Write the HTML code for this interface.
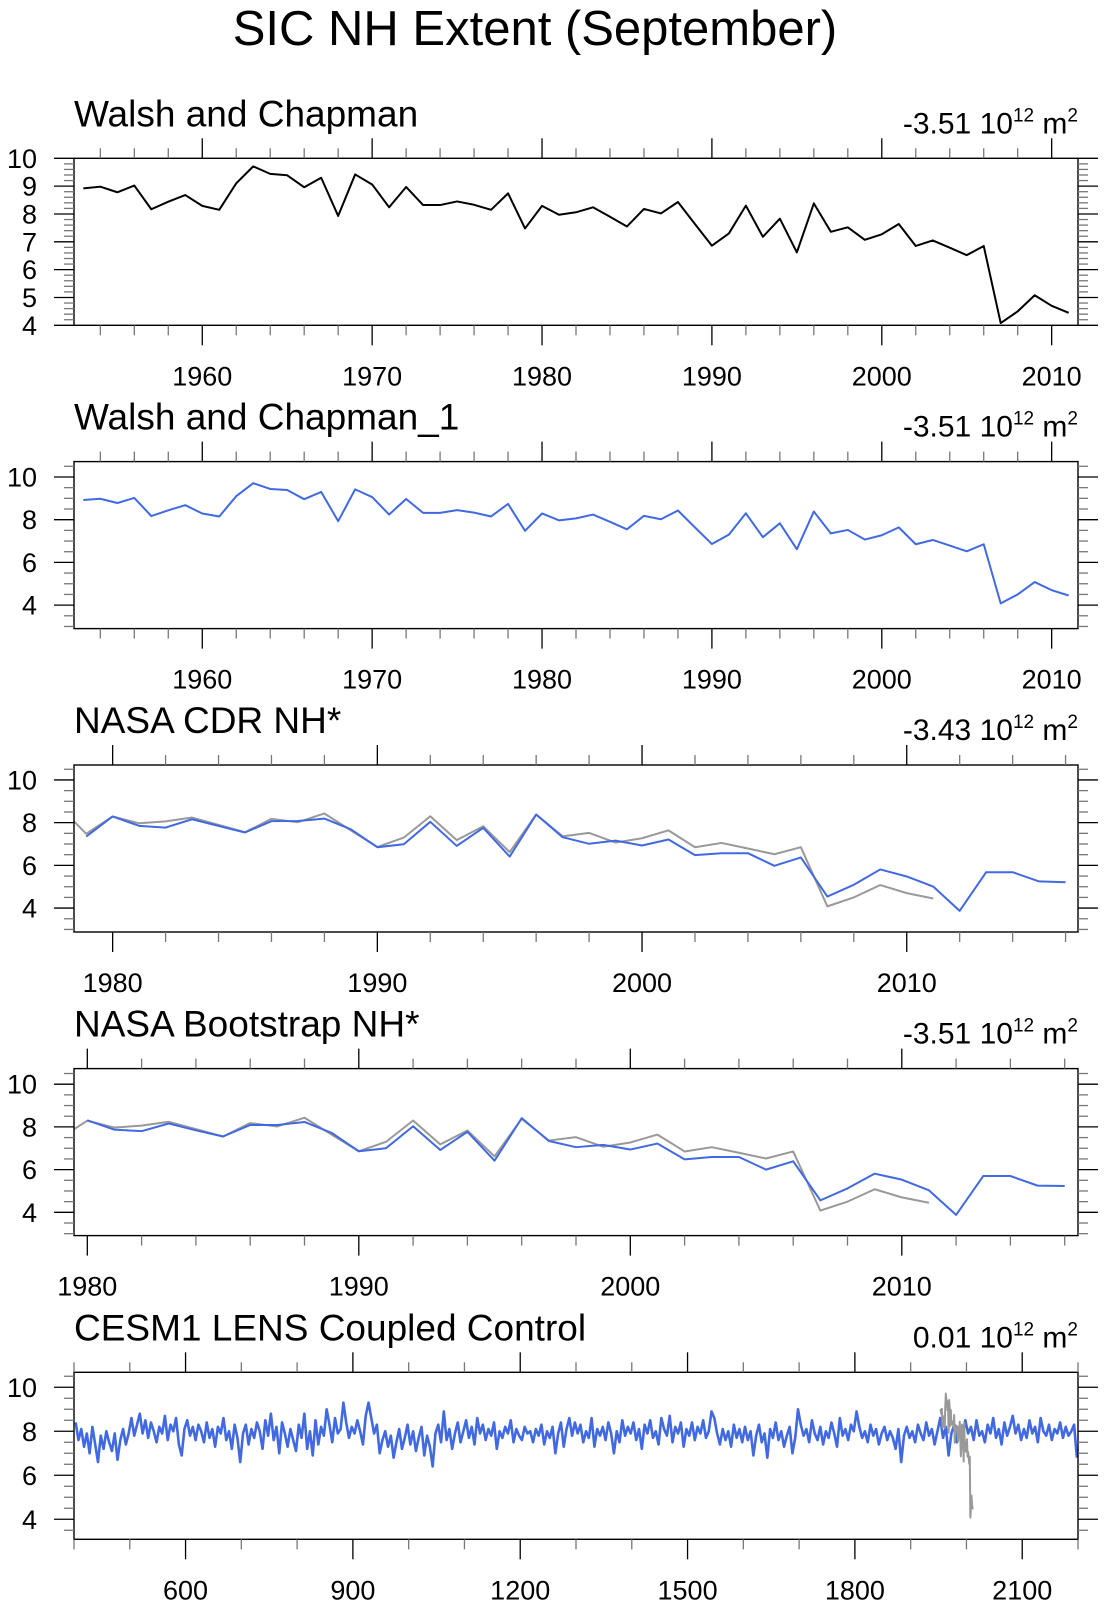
<!DOCTYPE html>
<html><head><meta charset="utf-8"><style>
html,body{margin:0;padding:0;background:#fff;}
svg{display:block;font-family:"Liberation Sans",Arial,sans-serif;}
</style></head><body>
<svg id="chart" width="1108" height="1608" viewBox="0 0 1108 1608" xmlns="http://www.w3.org/2000/svg">
<text x="535" y="45" font-size="49" text-anchor="middle">SIC NH Extent (September)</text>
</svg>
<script>
// ---- data ----
const walshStart = 1953;
const walshValues = [8.92,8.98,8.78,9.02,8.17,8.44,8.68,8.29,8.15,9.10,9.71,9.44,9.39,8.96,9.30,7.93,9.42,9.06,8.24,8.97,8.32,8.32,8.45,8.33,8.15,8.74,7.48,8.29,7.97,
8.06,8.24,7.90,7.55,8.18,8.02,8.43,7.64,6.86,7.30,8.30,7.18,7.83,6.62,8.38,7.36,7.52,7.07,7.27,7.64,6.85,7.05,6.79,6.52,6.85,4.08,4.50,5.08,4.70,4.45];
const cdrStart = 1979;
const cdrValues = [7.35,8.29,7.85,7.77,8.16,7.85,7.54,8.07,8.08,8.19,7.69,6.85,6.99,8.04,6.91,7.76,6.41,8.38,7.32,7.01,7.16,6.93,7.21,6.48,6.57,6.57,5.98,6.37,4.54,5.09,5.81,5.48,5.01,3.87,5.68,5.68,5.25,5.21];
const bootStart = 1980;
const bootValues = [8.31,7.87,7.80,8.16,7.84,7.55,8.09,8.09,8.23,7.72,6.86,7.00,8.03,6.92,7.77,6.42,8.41,7.34,7.05,7.16,6.94,7.22,6.48,6.59,6.59,6.00,6.39,4.56,5.12,5.81,5.53,5.03,3.88,5.70,5.70,5.25,5.23];
const cesmStart = 403;
const cesmStep = 5;
const cesmValues = [
8.4,7.6,8.1,7.3,7.9,7.0,8.2,7.4,6.6,7.8,7.2,8.0,7.5,7.1,7.9,6.7,7.6,8.1,7.4,7.9,
8.6,7.8,8.3,8.8,7.9,8.5,7.7,8.4,8.0,7.5,8.2,7.9,8.7,7.6,8.3,8.0,8.6,7.4,6.9,8.1,
8.5,7.8,8.2,7.6,8.3,8.0,7.5,8.4,7.7,8.1,7.3,8.2,7.9,8.6,7.6,8.0,7.2,8.3,7.7,6.6,
7.9,8.3,7.4,8.1,7.7,8.4,8.0,7.2,8.5,7.8,8.8,7.6,8.2,7.0,8.4,7.9,7.3,8.1,7.6,7.1,
8.3,7.7,8.8,7.2,8.0,6.9,8.5,7.4,8.2,7.8,9.0,8.3,7.5,8.6,7.9,8.1,9.3,8.4,7.7,8.2,
7.9,8.5,8.0,7.4,8.7,9.3,8.6,7.9,8.3,7.0,7.6,8.0,7.3,7.8,6.8,7.5,8.1,7.2,7.7,8.3,
7.4,8.0,7.1,7.7,8.2,6.9,7.8,7.3,6.4,7.9,8.3,7.5,8.9,7.6,8.1,7.2,7.9,8.4,7.5,8.0,
8.5,7.7,8.2,7.4,8.6,7.9,8.3,7.6,8.1,7.8,8.4,7.2,8.0,7.7,8.2,7.9,8.5,7.5,8.1,7.8,
7.6,8.2,7.9,8.0,7.5,8.1,7.8,8.3,7.4,8.0,7.7,8.2,7.0,7.9,8.4,7.3,8.1,8.6,7.8,8.4,
7.9,8.3,7.5,8.0,7.7,8.6,7.3,8.1,7.8,8.2,7.6,8.4,7.9,7.0,8.0,7.5,8.5,7.8,8.2,7.9,
8.4,7.6,8.1,7.2,8.3,7.9,8.5,7.7,8.0,7.4,8.6,8.1,7.8,8.7,7.5,8.2,7.9,8.4,7.3,8.1,
7.8,8.4,7.6,8.2,7.9,8.5,7.7,8.0,8.9,8.6,7.9,7.4,8.1,7.6,8.0,7.3,8.3,7.7,8.1,7.5,
8.2,7.6,8.0,6.9,7.8,8.3,7.5,7.9,6.8,8.1,7.7,8.4,7.6,8.0,7.3,7.8,8.2,7.0,7.7,9.0,
8.3,7.8,8.1,7.5,8.5,7.9,7.6,8.2,7.4,8.0,7.7,8.4,7.9,7.3,8.6,7.8,8.1,7.6,8.3,8.0,
8.9,8.2,7.7,8.0,7.5,8.3,7.8,8.1,7.4,7.9,8.2,7.6,8.0,7.7,7.2,8.1,6.6,7.8,8.2,7.7,
8.0,7.5,8.3,7.9,7.6,8.4,7.8,8.1,7.4,8.0,8.6,7.7,8.2,6.9,7.9,8.3,7.5,8.1,7.8,8.5,
7.9,8.2,7.6,8.5,7.8,8.0,7.5,8.3,7.9,8.6,7.7,8.1,7.4,8.4,7.8,8.2,8.7,7.9,8.3,7.6,
8.1,7.7,8.5,7.9,8.2,7.5,8.6,8.0,7.8,8.3,7.6,8.1,7.9,8.4,7.7,8.2,7.8,8.0,8.3,6.8];
const panelTitles = ["Walsh and Chapman","Walsh and Chapman_1","NASA CDR NH*","NASA Bootstrap NH*","CESM1 LENS Coupled Control"];
const trendLabels = ["-3.51","-3.51","-3.43","-3.51","0.01"];
const yLabelsP1 = [4,5,6,7,8,9,10];
const yLabelsOther = [4,6,8,10];
const xLabelsObs = [1960,1970,1980,1990,2000,2010];
const xLabelsSat = [1980,1990,2000,2010];
const xLabelsCesm = [600,900,1200,1500,1800,2100];

// ---- layout ----
const NS = "http://www.w3.org/2000/svg";
const svg = document.getElementById('chart');
const L = 74, R = 1078, H = 167;
function mk(tag, attrs, parent){const e=document.createElementNS(NS,tag);for(const k in attrs)e.setAttribute(k,attrs[k]);(parent||svg).appendChild(e);return e;}
function series(start, step, vals){return vals.map((v,i)=>[start+i*step,v]);}

const panels = [
 {top:158.3, x0:1952.45, x1:2011.55, y0:4, y1:10, yMaj:1, yMin:0.2, xMaj:10, xMin:2, yl:yLabelsP1, xl:xLabelsObs,
  lines:[{d:series(walshStart,1,walshValues),c:"#000",n:"walsh-line",w:2}]},
 {top:461.6, x0:1952.45, x1:2011.55, y0:2.9, y1:10.72, yMaj:2, yMin:0.5, xMaj:10, xMin:2, yl:yLabelsOther, xl:xLabelsObs,
  lines:[{d:series(walshStart,1,walshValues),c:"#4169e1",n:"walsh-1-line",w:2}]},
 {top:765, x0:1978.54, x1:2016.47, y0:2.88, y1:10.7, yMaj:2, yMin:0.5, xMaj:10, xMin:2, yl:yLabelsOther, xl:xLabelsSat,
  lines:[{d:series(walshStart,1,walshValues),c:"#999",n:"obs-reference-line",w:2},{d:series(cdrStart,1,cdrValues),c:"#4169e1",n:"cdr-line",w:2}]},
 {top:1068.6, x0:1979.51, x1:2016.49, y0:2.91, y1:10.73, yMaj:2, yMin:0.5, xMaj:10, xMin:2, yl:yLabelsOther, xl:xLabelsSat,
  lines:[{d:series(walshStart,1,walshValues),c:"#999",n:"obs-reference-line",w:2},{d:series(bootStart,1,bootValues),c:"#4169e1",n:"bootstrap-line",w:2}]},
 {top:1372.3, x0:400, x1:2200, y0:3.09, y1:10.68, yMaj:2, yMin:0.5, xMaj:300, xMin:100, yl:yLabelsOther, xl:xLabelsCesm,
  lines:[{d:series(cesmStart,cesmStep,cesmValues),c:"#4169e1",n:"cesm-control-line",w:2.6},{d:series(walshStart,1,walshValues),c:"#999",n:"obs-reference-line",w:2}]}
];

panels.forEach((p,pi)=>{
  const T=p.top, B=T+H;
  const g = mk('g',{});
  
  
  const xs = v => L + (v-p.x0)/(p.x1-p.x0)*(R-L);
  const ys = v => B - (v-p.y0)/(p.y1-p.y0)*H;
  const cid='clip'+pi;
  const cp=mk('clipPath',{id:cid},g); mk('rect',{x:L,y:T,width:R-L,height:H},cp);
  p.lines.forEach(ln=>{
    const pts = ln.d.map(([x,y])=>xs(x).toFixed(2)+','+ys(y).toFixed(2)).join(' ');
    const pl = mk('polyline',{points:pts,fill:'none',stroke:ln.c,'stroke-width':ln.w,'stroke-linejoin':'round','clip-path':'url(#'+cid+')'},g);
    
    
  });
  const box = mk('rect',{x:L,y:T,width:R-L,height:H,fill:'none',stroke:'#000','stroke-width':1.4},g);
  
  
  const eps=1e-6;
  for(let v=Math.ceil(p.y0/p.yMin-eps)*p.yMin; v<=p.y1+eps; v+=p.yMin){
    const vv=Math.round(v*1000)/1000;
    const maj = Math.abs(vv/p.yMaj-Math.round(vv/p.yMaj))<1e-6;
    const len = maj?20:10, y=ys(vv);
    mk('line',{x1:L-len,y1:y,x2:L,y2:y,stroke:maj?'#000':'#777','stroke-width':1.3},g);
    mk('line',{x1:R,y1:y,x2:R+len,y2:y,stroke:maj?'#000':'#777','stroke-width':1.3},g);
  }
  for(let v=Math.ceil(p.x0/p.xMin-eps)*p.xMin; v<=p.x1+eps; v+=p.xMin){
    const maj = Math.abs(v/p.xMaj-Math.round(v/p.xMaj))<1e-6;
    const len = maj?20:10, x=xs(v);
    mk('line',{x1:x,y1:T-len,x2:x,y2:T,stroke:maj?'#000':'#777','stroke-width':1.3},g);
    mk('line',{x1:x,y1:B,x2:x,y2:B+len,stroke:maj?'#000':'#777','stroke-width':1.3},g);
  }
  p.yl.forEach(v=>{
    const t = mk('text',{x:37,y:ys(v)+9.5,'font-size':27,'text-anchor':'end'},g);
    t.textContent = v;
    
    
  });
  p.xl.forEach(v=>{
    const t = mk('text',{x:xs(v),y:B+60,'font-size':27,'text-anchor':'middle'},g);
    t.textContent = v;
    
    
  });
  const tt = mk('text',{x:74,y:T-32,'font-size':37},g);
  tt.textContent = panelTitles[pi];
  
  
  const ut = mk('text',{x:R,y:T-25,'font-size':30,'text-anchor':'end'},g);
  
  
  const s1=mk('tspan',{},ut); s1.textContent=trendLabels[pi]+' 10';
  const s2=mk('tspan',{dy:-12,'font-size':19},ut); s2.textContent='12';
  const s3=mk('tspan',{dy:12},ut); s3.textContent=' m';
  const s4=mk('tspan',{dy:-12,'font-size':19},ut); s4.textContent='2';
});
</script>
</body></html>
